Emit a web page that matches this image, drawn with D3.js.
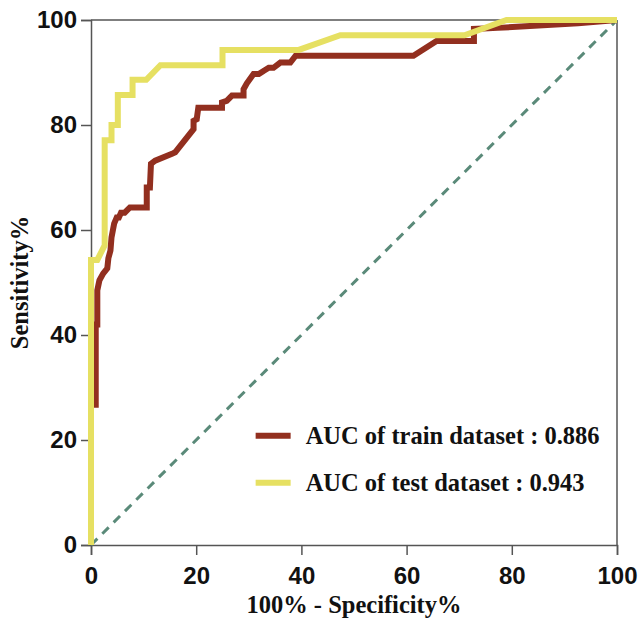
<!DOCTYPE html>
<html>
<head>
<meta charset="utf-8">
<script src="https://cdn.jsdelivr.net/npm/d3@7"></script>
<style>
  html, body { margin: 0; padding: 0; background: #fff; }
</style>
</head>
<body>
<svg id="chart" width="638" height="620"></svg>
<script>
// ROC points as [100% - specificity, sensitivity]
const trainRoc = [
  [0, 0], [0, 26.7], [0.9, 26.7], [0.9, 42.0], [1.2, 42.0], [1.2, 48.5], [1.6, 50.4],
  [2.3, 51.7], [3.1, 52.7], [3.3, 54.6], [3.7, 56.1], [3.9, 58.6], [4.4, 61.2],
  [4.9, 62.4], [5.3, 62.4], [5.7, 63.3], [6.4, 63.3], [7.4, 64.3], [10.6, 64.3],
  [10.6, 68.1], [11.2, 68.1], [11.4, 72.6], [12.2, 73.2], [15.4, 74.5], [16.0, 74.8],
  [19.5, 79.2], [19.5, 80.8], [20.1, 81.1], [20.4, 83.3], [24.9, 83.3], [24.9, 84.3],
  [25.8, 84.6], [26.8, 85.6], [29.0, 85.6], [29.0, 86.8], [29.6, 87.9], [30.9, 89.7],
  [31.9, 89.7], [32.8, 90.3], [33.8, 90.9], [34.7, 90.9], [36.0, 91.9], [37.9, 91.9],
  [38.9, 93.2], [61.3, 93.2], [65.7, 96.0], [72.8, 96.0], [72.8, 98.3], [77.3, 98.5],
  [92.6, 99.4], [100, 100]
];

const testRoc = [
  [0, 0], [0, 54.3], [1.2, 54.3], [2.6, 57.1], [2.6, 77.1], [3.9, 77.1], [3.9, 80.0],
  [5.1, 80.0], [5.1, 85.7], [7.9, 85.7], [7.9, 88.6], [10.5, 88.6], [13.2, 91.4],
  [25.0, 91.4], [25.0, 94.3], [39.5, 94.3], [47.4, 97.1], [71.0, 97.1], [79.0, 100],
  [100, 100]
];

const refLine = [[0, 0], [100, 100]];
const xTicks = [0, 20, 40, 60, 80, 100];
const yTicks = [0, 20, 40, 60, 80, 100];

const series = [
  { name: 'AUC of train dataset : 0.886', values: trainRoc, color: '#922f1f' },
  { name: 'AUC of test dataset : 0.943', values: testRoc, color: '#e6e062' }
];

const margin = { top: 20, right: 21, bottom: 75, left: 91 };
const width = 638 - margin.left - margin.right;
const height = 620 - margin.top - margin.bottom;

const svg = d3.select('#chart');
const g = svg.append('g').attr('transform', `translate(${margin.left},${margin.top})`);

const x = d3.scaleLinear().domain([0, 100]).range([0, width]);
const y = d3.scaleLinear().domain([0, 100]).range([height, 0]);

const axisColor = '#555555';
const tickFont = 'bold 24px "Liberation Sans", Arial, sans-serif';
const titleFont = 'bold 24.5px "Liberation Serif", "Times New Roman", serif';

// frame (top and right)
g.append('line')
  .attr('x1', 0).attr('x2', width).attr('y1', 0).attr('y2', 0)
  .attr('stroke', axisColor).attr('stroke-width', 1.5);
g.append('line')
  .attr('x1', width).attr('x2', width).attr('y1', 0).attr('y2', height)
  .attr('stroke', axisColor).attr('stroke-width', 1.5);

const xAxis = g.append('g')
  .attr('transform', `translate(0,${height})`)
  .call(d3.axisBottom(x).tickValues(xTicks).tickSize(10).tickPadding(12).tickFormat(d3.format('d')));

const yAxis = g.append('g')
  .call(d3.axisLeft(y).tickValues(yTicks).tickSize(10).tickPadding(4).tickFormat(d3.format('d')));

[xAxis, yAxis].forEach(ax => {
  ax.select('.domain').attr('stroke', axisColor).attr('stroke-width', 1.5);
  ax.selectAll('.tick line').attr('stroke', axisColor).attr('stroke-width', 1.5);
  ax.selectAll('.tick text')
    .attr('fill', '#111')
    .style('font', tickFont);
});

const line = d3.line().x(d => x(d[0])).y(d => y(d[1]));

g.append('path')
  .datum(refLine)
  .attr('d', line)
  .attr('fill', 'none')
  .attr('stroke', '#5a8a79')
  .attr('stroke-width', 3)
  .attr('stroke-dasharray', '9,7');

g.selectAll('.roc')
  .data(series)
  .enter().append('path')
  .attr('class', 'roc')
  .attr('d', d => line(d.values))
  .attr('fill', 'none')
  .attr('stroke', d => d.color)
  .attr('stroke-width', 6)
  .attr('stroke-linejoin', 'miter');

// legend
const legend = g.append('g').attr('transform', `translate(${x(31.3)},${y(20.8)})`);
const legendItem = legend.selectAll('.legend-item')
  .data(series)
  .enter().append('g')
  .attr('class', 'legend-item')
  .attr('transform', (d, i) => `translate(0,${i * 47})`);

legendItem.append('line')
  .attr('x1', 0).attr('x2', 35)
  .attr('y1', 0).attr('y2', 0)
  .attr('stroke', d => d.color)
  .attr('stroke-width', 6);

legendItem.append('text')
  .attr('x', 50)
  .attr('y', 0)
  .attr('dy', '0.35em')
  .attr('fill', '#111')
  .style('font', titleFont)
  .text(d => d.name);

// axis titles
g.append('text')
  .attr('x', width / 2)
  .attr('y', height + 68)
  .attr('text-anchor', 'middle')
  .attr('fill', '#111')
  .style('font', titleFont)
  .text('100% - Specificity%');

g.append('text')
  .attr('transform', `translate(${-63},${height / 2}) rotate(-90)`)
  .attr('text-anchor', 'middle')
  .attr('fill', '#111')
  .style('font', titleFont)
  .text('Sensitivity%');
</script>
</body>
</html>
